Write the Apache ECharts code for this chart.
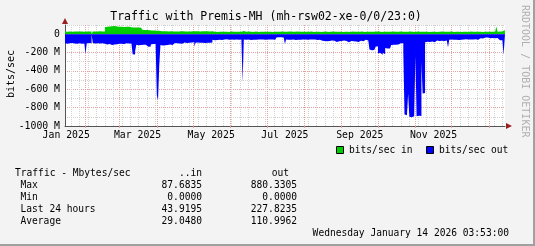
<!DOCTYPE html>
<html><head><meta charset="utf-8">
<script src="https://cdn.jsdelivr.net/npm/echarts@6/dist/echarts.min.js"></script>
<style>html,body{margin:0;padding:0;background:#f3f3f3}#c{width:535px;height:246px}</style>
</head><body><div id="c"></div>
<script>
// ---------------- data ----------------
const titleText = 'Traffic with Premis-MH (mh-rsw02-xe-0/0/23:0)';
const yAxisName = 'bits/sec';
const seriesNames = ['bits/sec in', 'bits/sec out'];
const monthNames = ['Jan','Feb','Mar','Apr','May','Jun','Jul','Aug','Sep','Oct','Nov','Dec'];
const startDate = [2025, 0, 15, 0];   // first day of data (UTC)
const endDate = [2026, 0, 14, 4];     // end of graph
const labelMonths = [[2025,0],[2025,2],[2025,4],[2025,6],[2025,8],[2025,10]];
const yMin = -1000, yMax = 100;       // M bits/sec
// daily values, Mbit/s
const inTraffic = [
28,27,29,28,30,27,28,29,27,28,30,28,27,29,28,27,29,28,30,28,27,29,
0,
30,29,31,30,28,31,30,29,31,30,
76,80,82,84,83,86,
87,88,86,85,84,
82,80,81,83,79,82,80,78,81,
78,76,77,74,75,73,76,72,74,71,70,
47,45,44,46,42,43,41,40,42,39,41,38,40,
38,36,
32,30,31,29,33,30,28,31,32,30,29,31,30,33,29,30,32,28,31,30,29,32,30,31,28,30,33,29,31,30,32,29,30,28,31,30,32,29,31,30,28,30,31,
27,26,28,25,27,26,28,27,25,26,28,27,26,25,27,28,26,27,25,26,28,27,26,27,28,
36,
26,27,25,28,26,27,26,25,27,28,
26,25,27,26,28,27,25,26,27,26,
28,26,27,25,26,27,28,26,25,27,
26,28,27,26,25,27,26,28,27,26,
25,27,26,28,26,27,25,26,28,27,
26,27,25,26,27,28,26,25,27,26,
27,26,28,25,27,26,27,28,26,25,
26,27,26,28,25,27,26,27,28,26,
27,25,26,27,28,26,27,25,26,28,
26,27,28,26,25,27,26,28,27,25,
27,26,25,27,28,26,27,26,25,28,
26,28,27,25,26,27,28,26,27,26,
25,27,26,28,27,26,25,27,26,28,
27,26,28,26,25,27,26,28,27,26,
26,25,27,28,26,27,25,26,28,27,
28,26,27,25,27,26,28,27,26,25,
26,27,26,28,25,27,26,27,28,26,
27,28,26,25,27,26,28,26,27,25,
26,27,28,26,27,25,26,28,27,26,
25,27,26,27,28,26,27,25,26,27,
28,26,27,26,25,27,28,26,27,
83,
27,28,26,30,
47,46,44
];
const outTraffic = [
98,104,95,100,106,97,92,101,99,105,96,100,94,103,98,101,97,
215,
100,96,103,99,
0,
97,101,104,99,95,102,98,100,96,103,
108,112,115,106,110,118,109,113,107,111,116,104,110,
103,100,106,109,98,105,102,107,101,104,
218,222,188,
115,120,112,118,122,114,119,116,
132,138,128,135,
112,108,115,106,111,
665,720,340,
118,124,115,121,126,117,120,113,122,119,
102,97,104,99,95,101,98,103,
95,90,93,97,88,92,96,91,94,89,
138,
93,90,95,92,88,94,91,96,90,93,89,92,95,91,
60,65,58,63,68,61,57,64,66,59,62,55,67,60,63,58,64,61,66,57,62,60,65,59,
62,
525,
58,61,63,57,60,64,59,62,56,61,60,58,63,59,61,57,62,60,64,58,61,59,63,57,60,62,58,
36,33,38,34,31,37,35,
106,
59,62,57,61,63,58,60,64,56,61,59,62,60,57,63,58,61,60,64,59,62,57,61,58,60,63,59,61,
68,72,65,75,70,78,66,73,80,69,74,71,77,84,70,76,82,73,79,68,85,75,72,88,78,74,81,76,90,79,73,84,77,
72,65,78,70,62,75,68,80,
168,174,165,172,170,
136,132,
208,205,
212,225,203,218,
150,156,148,155,152,
118,114,120,116,119,113,
102,98,104,100,
190,
875,882,885,
650,
898,905,902,895,900,
237,
893,888,897,890,
300,
645,640,
88,82,86,84,90,80,85,87,
72,68,70,74,66,71,69,73,67,70,72,
146,
61,58,63,60,57,62,59,64,56,60,62,58,61,55,63,59,60,57,62,58,61,56,59,60,
47,44,42,46,38,35,33,36,40,43,45,41,48,44,46,42,
63,67,62,66,
64,
226,228
];
const statHeader = ['Traffic - Mbytes/sec', '..in', 'out'];
const statRows = ['Max', 'Min', 'Last 24 hours', 'Average'];
const statIn = ['87.6835', '0.0000', '43.9195', '29.0480'];
const statOut = ['880.3305', '0.0000', '227.8235', '110.9962'];
const timestampText = 'Wednesday January 14 2026 03:53:00';
const watermark = 'RRDTOOL / TOBI OETIKER';

// ---------------- build ----------------
const DAY = 864e5;
const START = Date.UTC(...startDate);
const END = Date.UTC(...endDate);
const SPAN = (END - START) / DAY;
const off = (y, m, d) => (Date.UTC(y, m, d) - START) / DAY;

const monthStarts = [];
for (let k = 1; k <= 12; k++) monthStarts.push(off(2025, k, 1));
const weekLines = [];
for (let d = off(2025, 0, 20); d < SPAN; d += 7) weekLines.push(d);
const labelVals = labelMonths.map(([y, m]) => off(y, m, 16));

// each daily value is held flat over its own day (RRD-style step area)
function stepData(arr, sign) {
  const d = [];
  arr.forEach((v, i) => { d.push([i, sign * v]); d.push([Math.min(i + 1, SPAN), sign * v]); });
  return d;
}

const FONT = '"DejaVu Sans Mono", monospace';
const AXISC = '#555';
const ARROWC = '#9a1f1f';
const MINOR = '#d2d2d2';
const MAJOR = '#e6a0a0';

const chart = echarts.init(document.getElementById('c'), null, {renderer: 'canvas'});

const gText = (text, x, y, opt) => Object.assign({
  type: 'text', x: x, y: y, silent: true,
  style: Object.assign({text: text, font: '9.6px ' + FONT, fill: '#000', align: 'left', verticalAlign: 'middle'}, (opt && opt.style) || {})
}, opt && opt.rotation != null ? {rotation: opt.rotation} : {});

const graphics = [
  {type: 'rect', shape: {x: 0, y: 244, width: 535, height: 2}, style: {fill: '#a0a0a0'}, silent: true},
  {type: 'rect', shape: {x: 533, y: 0, width: 2, height: 246}, style: {fill: '#a0a0a0'}, silent: true},
  gText(titleText, 266, 17, {style: {font: '11.5px ' + FONT, align: 'center'}}),
  gText(yAxisName, 11, 74, {rotation: Math.PI / 2, style: {font: '10px ' + FONT, align: 'center'}}),
  gText(watermark, 525, 5, {rotation: -Math.PI / 2, style: {font: '10px ' + FONT, fill: '#b0b0b0', align: 'left'}}),
  {type: 'rect', shape: {x: 336.5, y: 146.5, width: 7, height: 7}, style: {fill: '#00cc00', stroke: '#000', lineWidth: 1}, silent: true},
  gText(seriesNames[0], 349, 150),
  {type: 'rect', shape: {x: 426.5, y: 146.5, width: 7, height: 7}, style: {fill: '#0000ff', stroke: '#000', lineWidth: 1}, silent: true},
  gText(seriesNames[1], 439, 150),
  gText(statHeader[0], 15, 173.7),
  gText(statHeader[1], 202, 173.7, {style: {align: 'right'}}),
  gText(statHeader[2], 289, 173.7, {style: {align: 'right'}}),
  gText(timestampText, 509, 233.7, {style: {align: 'right'}})
];
statRows.forEach((r, i) => {
  const y = 185.7 + i * 12;
  graphics.push(gText(r, 20.5, y));
  graphics.push(gText(statIn[i], 202, y, {style: {align: 'right'}}));
  graphics.push(gText(statOut[i], 297, y, {style: {align: 'right'}}));
});

const hidden = {show: false};
chart.setOption({
  animation: false,
  backgroundColor: '#f3f3f3',
  textStyle: {fontFamily: FONT},
  grid: {left: 65, right: 30, top: 25, bottom: 120, show: true, backgroundColor: '#ffffff', borderWidth: 0},
  xAxis: [
    { // weekly minor grid
      type: 'value', position: 'bottom', min: 0, max: SPAN,
      axisLine: hidden, axisLabel: hidden,
      axisTick: {show: false, customValues: weekLines},
      splitLine: {show: true, lineStyle: {color: MINOR, type: [1, 1], width: 1}}
    },
    { // monthly major grid + labels
      type: 'value', position: 'bottom', min: 0, max: SPAN,
      axisLine: {show: true, onZero: false, lineStyle: {color: AXISC, width: 1}},
      axisTick: {show: true, length: 2, customValues: monthStarts, lineStyle: {color: MAJOR}},
      axisLabel: {
        show: true, customValues: labelVals, margin: 4, color: '#000', fontFamily: FONT, fontSize: 9.8,
        formatter: v => { const d = new Date(START + v * DAY); return monthNames[d.getUTCMonth()] + ' ' + d.getUTCFullYear(); }
      },
      splitLine: {show: true, lineStyle: {color: MAJOR, type: [1, 1], width: 1}}
    },
    { // arrow
      type: 'value', position: 'bottom', min: 0, max: SPAN,
      axisLine: {show: true, onZero: false, symbol: ['none', 'triangle'], symbolSize: [6, 6], symbolOffset: [0, 4], lineStyle: {color: ARROWC, width: 0}},
      axisTick: hidden, axisLabel: hidden, splitLine: hidden
    }
  ],
  yAxis: [
    {
      type: 'value', position: 'left', min: yMin, max: yMax, interval: 100,
      axisLine: {show: true, onZero: false, lineStyle: {color: AXISC, width: 1}},
      axisTick: {show: false},
      axisLabel: {
        show: true, margin: 5, color: '#000', fontFamily: FONT, fontSize: 9.8,
        formatter: v => v === 0 ? '0' : (v < 0 && v % 200 === 0 ? v + ' M' : '')
      },
      splitLine: {show: true, lineStyle: {color: [MAJOR, MINOR], type: [1, 1], width: 1}}
    },
    {
      type: 'value', position: 'left', min: yMin, max: yMax,
      axisLine: {show: true, onZero: false, symbol: ['none', 'triangle'], symbolSize: [6, 6], symbolOffset: [0, 4], lineStyle: {color: ARROWC, width: 0}},
      axisTick: hidden, axisLabel: hidden, splitLine: hidden
    }
  ],
  series: [
    {
      name: seriesNames[0], type: 'line', xAxisIndex: 1, yAxisIndex: 0,
      data: stepData(inTraffic, 1), showSymbol: false, silent: true,
      lineStyle: {width: 0}, areaStyle: {color: '#00cc00', opacity: 1}, color: '#00cc00'
    },
    {
      name: seriesNames[1], type: 'line', xAxisIndex: 1, yAxisIndex: 0,
      data: stepData(outTraffic, -1), showSymbol: false, silent: true,
      lineStyle: {width: 0}, areaStyle: {color: '#0000ff', opacity: 1}, color: '#0000ff'
    }
  ],
  graphic: graphics
});
</script>
</body></html>
